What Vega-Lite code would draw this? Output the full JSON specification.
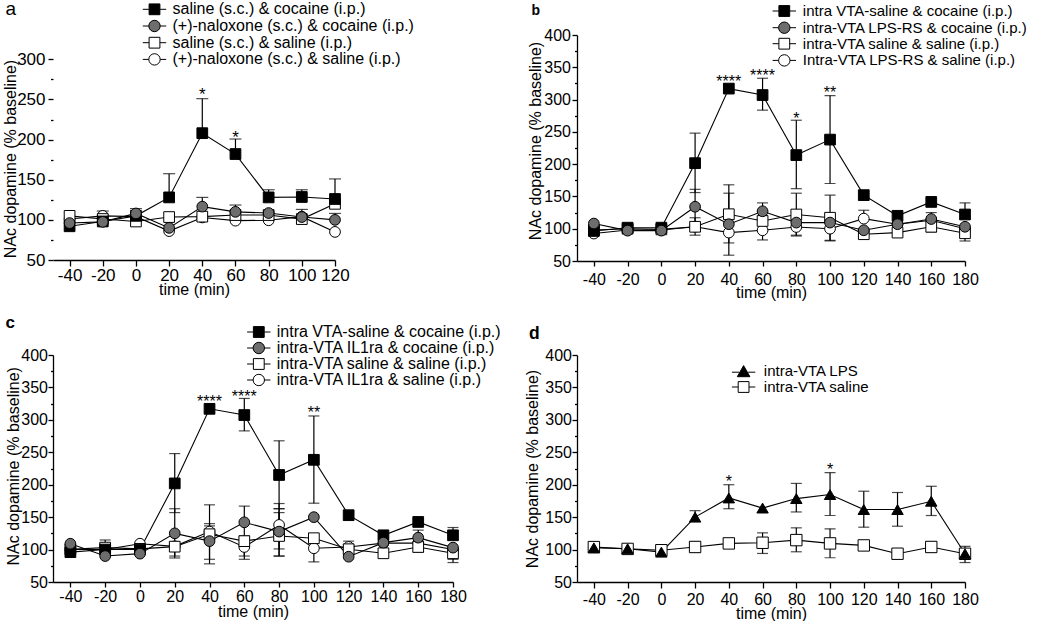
{
 "$schema": "https://vega.github.io/schema/vega-lite/v6.json",
 "padding": {"left": 2, "top": 0, "right": 5, "bottom": 5},
 "datasets": {
  "a": [
   {"group": "(+)-naloxone (s.c.) & saline (i.p.)", "time": -40, "value": 101},
   {"group": "(+)-naloxone (s.c.) & saline (i.p.)", "time": -20, "value": 105, "hi": 111},
   {"group": "(+)-naloxone (s.c.) & saline (i.p.)", "time": 0, "value": 104},
   {"group": "(+)-naloxone (s.c.) & saline (i.p.)", "time": 20, "value": 86},
   {"group": "(+)-naloxone (s.c.) & saline (i.p.)", "time": 40, "value": 103},
   {"group": "(+)-naloxone (s.c.) & saline (i.p.)", "time": 60, "value": 99},
   {"group": "(+)-naloxone (s.c.) & saline (i.p.)", "time": 80, "value": 99.5},
   {"group": "(+)-naloxone (s.c.) & saline (i.p.)", "time": 100, "value": 104},
   {"group": "(+)-naloxone (s.c.) & saline (i.p.)", "time": 120, "value": 85},
   {"group": "saline (s.c.) & saline (i.p.)", "time": -40, "value": 105},
   {"group": "saline (s.c.) & saline (i.p.)", "time": -20, "value": 101},
   {"group": "saline (s.c.) & saline (i.p.)", "time": 0, "value": 98},
   {"group": "saline (s.c.) & saline (i.p.)", "time": 20, "value": 103.5},
   {"group": "saline (s.c.) & saline (i.p.)", "time": 40, "value": 104},
   {"group": "saline (s.c.) & saline (i.p.)", "time": 60, "value": 106},
   {"group": "saline (s.c.) & saline (i.p.)", "time": 80, "value": 106},
   {"group": "saline (s.c.) & saline (i.p.)", "time": 100, "value": 101},
   {"group": "saline (s.c.) & saline (i.p.)", "time": 120, "value": 120},
   {"group": "saline (s.c.) & cocaine (i.p.)", "time": -40, "value": 92},
   {"group": "saline (s.c.) & cocaine (i.p.)", "time": -20, "value": 98},
   {"group": "saline (s.c.) & cocaine (i.p.)", "time": 0, "value": 105, "hi": 114},
   {"group": "saline (s.c.) & cocaine (i.p.)", "time": 20, "value": 128, "hi": 157.5},
   {"group": "saline (s.c.) & cocaine (i.p.)", "time": 40, "value": 208, "hi": 251},
   {"group": "saline (s.c.) & cocaine (i.p.)", "time": 60, "value": 182, "hi": 200.7},
   {"group": "saline (s.c.) & cocaine (i.p.)", "time": 80, "value": 128, "hi": 137.5},
   {"group": "saline (s.c.) & cocaine (i.p.)", "time": 100, "value": 128.5, "hi": 137.5},
   {"group": "saline (s.c.) & cocaine (i.p.)", "time": 120, "value": 126, "hi": 151},
   {"group": "(+)-naloxone (s.c.) & cocaine (i.p.)", "time": -40, "value": 96},
   {"group": "(+)-naloxone (s.c.) & cocaine (i.p.)", "time": -20, "value": 97.5},
   {"group": "(+)-naloxone (s.c.) & cocaine (i.p.)", "time": 0, "value": 108},
   {"group": "(+)-naloxone (s.c.) & cocaine (i.p.)", "time": 20, "value": 90},
   {"group": "(+)-naloxone (s.c.) & cocaine (i.p.)", "time": 40, "value": 116.5, "hi": 128},
   {"group": "(+)-naloxone (s.c.) & cocaine (i.p.)", "time": 60, "value": 110, "hi": 118.5},
   {"group": "(+)-naloxone (s.c.) & cocaine (i.p.)", "time": 80, "value": 108.5},
   {"group": "(+)-naloxone (s.c.) & cocaine (i.p.)", "time": 100, "value": 103.5, "hi": 113},
   {"group": "(+)-naloxone (s.c.) & cocaine (i.p.)", "time": 120, "value": 100, "hi": 108}
  ],
  "a_stars": [
   {"time": 40, "value": 260, "label": "*"},
   {"time": 60, "value": 207, "label": "*"}
  ],
  "b": [
   {"group": "Intra-VTA LPS-RS & saline (i.p.)", "time": -40, "value": 92.5},
   {"group": "Intra-VTA LPS-RS & saline (i.p.)", "time": -20, "value": 98},
   {"group": "Intra-VTA LPS-RS & saline (i.p.)", "time": 0, "value": 98},
   {"group": "Intra-VTA LPS-RS & saline (i.p.)", "time": 20, "value": 103},
   {"group": "Intra-VTA LPS-RS & saline (i.p.)", "time": 40, "value": 94, "lo": 59},
   {"group": "Intra-VTA LPS-RS & saline (i.p.)", "time": 60, "value": 97.6, "lo": 82.6},
   {"group": "Intra-VTA LPS-RS & saline (i.p.)", "time": 80, "value": 102.7, "lo": 88.7},
   {"group": "Intra-VTA LPS-RS & saline (i.p.)", "time": 100, "value": 100, "lo": 81},
   {"group": "Intra-VTA LPS-RS & saline (i.p.)", "time": 120, "value": 115.6, "hi": 128.6},
   {"group": "Intra-VTA LPS-RS & saline (i.p.)", "time": 140, "value": 107},
   {"group": "Intra-VTA LPS-RS & saline (i.p.)", "time": 160, "value": 113},
   {"group": "Intra-VTA LPS-RS & saline (i.p.)", "time": 180, "value": 100},
   {"group": "intra-VTA saline & saline (i.p.)", "time": -40, "value": 98},
   {"group": "intra-VTA saline & saline (i.p.)", "time": -20, "value": 100},
   {"group": "intra-VTA saline & saline (i.p.)", "time": 0, "value": 99},
   {"group": "intra-VTA saline & saline (i.p.)", "time": 20, "value": 103, "hi": 117, "lo": 90},
   {"group": "intra-VTA saline & saline (i.p.)", "time": 40, "value": 122.4, "hi": 168, "lo": 78},
   {"group": "intra-VTA saline & saline (i.p.)", "time": 60, "value": 112, "hi": 126, "lo": 98},
   {"group": "intra-VTA saline & saline (i.p.)", "time": 80, "value": 122, "hi": 155, "lo": 90},
   {"group": "intra-VTA saline & saline (i.p.)", "time": 100, "value": 117, "hi": 152, "lo": 82},
   {"group": "intra-VTA saline & saline (i.p.)", "time": 120, "value": 91.5},
   {"group": "intra-VTA saline & saline (i.p.)", "time": 140, "value": 94},
   {"group": "intra-VTA saline & saline (i.p.)", "time": 160, "value": 103, "lo": 95},
   {"group": "intra-VTA saline & saline (i.p.)", "time": 180, "value": 93, "lo": 81},
   {"group": "intra VTA-saline & cocaine (i.p.)", "time": -40, "value": 96.5},
   {"group": "intra VTA-saline & cocaine (i.p.)", "time": -20, "value": 101.6},
   {"group": "intra VTA-saline & cocaine (i.p.)", "time": 0, "value": 101.6},
   {"group": "intra VTA-saline & cocaine (i.p.)", "time": 20, "value": 201.5, "hi": 248, "lo": 156},
   {"group": "intra VTA-saline & cocaine (i.p.)", "time": 40, "value": 317},
   {"group": "intra VTA-saline & cocaine (i.p.)", "time": 60, "value": 307, "hi": 333, "lo": 283.6},
   {"group": "intra VTA-saline & cocaine (i.p.)", "time": 80, "value": 214, "hi": 268, "lo": 162},
   {"group": "intra VTA-saline & cocaine (i.p.)", "time": 100, "value": 238, "hi": 306, "lo": 170},
   {"group": "intra VTA-saline & cocaine (i.p.)", "time": 120, "value": 152},
   {"group": "intra VTA-saline & cocaine (i.p.)", "time": 140, "value": 120},
   {"group": "intra VTA-saline & cocaine (i.p.)", "time": 160, "value": 141.5},
   {"group": "intra VTA-saline & cocaine (i.p.)", "time": 180, "value": 122, "hi": 140},
   {"group": "intra-VTA LPS-RS & cocaine (i.p.)", "time": -40, "value": 108},
   {"group": "intra-VTA LPS-RS & cocaine (i.p.)", "time": -20, "value": 97},
   {"group": "intra-VTA LPS-RS & cocaine (i.p.)", "time": 0, "value": 97},
   {"group": "intra-VTA LPS-RS & cocaine (i.p.)", "time": 20, "value": 134, "hi": 161, "lo": 107},
   {"group": "intra-VTA LPS-RS & cocaine (i.p.)", "time": 40, "value": 107, "hi": 155},
   {"group": "intra-VTA LPS-RS & cocaine (i.p.)", "time": 60, "value": 127, "hi": 140, "lo": 114},
   {"group": "intra-VTA LPS-RS & cocaine (i.p.)", "time": 80, "value": 109.5},
   {"group": "intra-VTA LPS-RS & cocaine (i.p.)", "time": 100, "value": 109.5},
   {"group": "intra-VTA LPS-RS & cocaine (i.p.)", "time": 120, "value": 97.6},
   {"group": "intra-VTA LPS-RS & cocaine (i.p.)", "time": 140, "value": 107},
   {"group": "intra-VTA LPS-RS & cocaine (i.p.)", "time": 160, "value": 115, "hi": 125},
   {"group": "intra-VTA LPS-RS & cocaine (i.p.)", "time": 180, "value": 103, "lo": 95}
  ],
  "b_stars": [
   {"time": 40, "value": 333, "label": "****"},
   {"time": 60, "value": 342.6, "label": "****"},
   {"time": 80, "value": 274.8, "label": "*"},
   {"time": 100, "value": 316, "label": "**"}
  ],
  "c": [
   {"group": "intra-VTA IL1ra & saline (i.p.)", "time": -40, "value": 100},
   {"group": "intra-VTA IL1ra & saline (i.p.)", "time": -20, "value": 100},
   {"group": "intra-VTA IL1ra & saline (i.p.)", "time": 0, "value": 109},
   {"group": "intra-VTA IL1ra & saline (i.p.)", "time": 20, "value": 105},
   {"group": "intra-VTA IL1ra & saline (i.p.)", "time": 40, "value": 127.7, "hi": 136.5},
   {"group": "intra-VTA IL1ra & saline (i.p.)", "time": 60, "value": 104, "lo": 90},
   {"group": "intra-VTA IL1ra & saline (i.p.)", "time": 80, "value": 138, "hi": 163, "lo": 90},
   {"group": "intra-VTA IL1ra & saline (i.p.)", "time": 100, "value": 102, "lo": 81},
   {"group": "intra-VTA IL1ra & saline (i.p.)", "time": 120, "value": 104, "hi": 113},
   {"group": "intra-VTA IL1ra & saline (i.p.)", "time": 140, "value": 110},
   {"group": "intra-VTA IL1ra & saline (i.p.)", "time": 160, "value": 110},
   {"group": "intra-VTA IL1ra & saline (i.p.)", "time": 180, "value": 100},
   {"group": "intra-VTA saline & saline (i.p.)", "time": -40, "value": 100.5},
   {"group": "intra-VTA saline & saline (i.p.)", "time": -20, "value": 103, "hi": 114.8},
   {"group": "intra-VTA saline & saline (i.p.)", "time": 0, "value": 101},
   {"group": "intra-VTA saline & saline (i.p.)", "time": 20, "value": 104.5, "lo": 90},
   {"group": "intra-VTA saline & saline (i.p.)", "time": 40, "value": 123.6, "hi": 140, "lo": 85},
   {"group": "intra-VTA saline & saline (i.p.)", "time": 60, "value": 113, "hi": 121, "lo": 85},
   {"group": "intra-VTA saline & saline (i.p.)", "time": 80, "value": 121, "hi": 157, "lo": 101},
   {"group": "intra-VTA saline & saline (i.p.)", "time": 100, "value": 117.5},
   {"group": "intra-VTA saline & saline (i.p.)", "time": 120, "value": 100.5},
   {"group": "intra-VTA saline & saline (i.p.)", "time": 140, "value": 94.3},
   {"group": "intra-VTA saline & saline (i.p.)", "time": 160, "value": 104, "lo": 96},
   {"group": "intra-VTA saline & saline (i.p.)", "time": 180, "value": 94.3, "lo": 85},
   {"group": "intra VTA-saline & cocaine (i.p.)", "time": -40, "value": 96},
   {"group": "intra VTA-saline & cocaine (i.p.)", "time": -20, "value": 100},
   {"group": "intra VTA-saline & cocaine (i.p.)", "time": 0, "value": 100},
   {"group": "intra VTA-saline & cocaine (i.p.)", "time": 20, "value": 202, "hi": 248, "lo": 157},
   {"group": "intra VTA-saline & cocaine (i.p.)", "time": 40, "value": 317},
   {"group": "intra VTA-saline & cocaine (i.p.)", "time": 60, "value": 307.4, "hi": 333, "lo": 283},
   {"group": "intra VTA-saline & cocaine (i.p.)", "time": 80, "value": 215, "hi": 267.7, "lo": 163},
   {"group": "intra VTA-saline & cocaine (i.p.)", "time": 100, "value": 238.4, "hi": 306, "lo": 171.5},
   {"group": "intra VTA-saline & cocaine (i.p.)", "time": 120, "value": 153},
   {"group": "intra VTA-saline & cocaine (i.p.)", "time": 140, "value": 122},
   {"group": "intra VTA-saline & cocaine (i.p.)", "time": 160, "value": 142.6},
   {"group": "intra VTA-saline & cocaine (i.p.)", "time": 180, "value": 122, "hi": 134},
   {"group": "intra-VTA IL1ra & cocaine (i.p.)", "time": -40, "value": 109},
   {"group": "intra-VTA IL1ra & cocaine (i.p.)", "time": -20, "value": 90},
   {"group": "intra-VTA IL1ra & cocaine (i.p.)", "time": 0, "value": 93.7},
   {"group": "intra-VTA IL1ra & cocaine (i.p.)", "time": 20, "value": 125, "hi": 163, "lo": 87},
   {"group": "intra-VTA IL1ra & cocaine (i.p.)", "time": 40, "value": 113, "hi": 169, "lo": 78},
   {"group": "intra-VTA IL1ra & cocaine (i.p.)", "time": 60, "value": 142, "hi": 167, "lo": 118},
   {"group": "intra-VTA IL1ra & cocaine (i.p.)", "time": 80, "value": 127.7, "hi": 171, "lo": 90},
   {"group": "intra-VTA IL1ra & cocaine (i.p.)", "time": 100, "value": 150},
   {"group": "intra-VTA IL1ra & cocaine (i.p.)", "time": 120, "value": 89},
   {"group": "intra-VTA IL1ra & cocaine (i.p.)", "time": 140, "value": 110.7},
   {"group": "intra-VTA IL1ra & cocaine (i.p.)", "time": 160, "value": 118.4, "hi": 130},
   {"group": "intra-VTA IL1ra & cocaine (i.p.)", "time": 180, "value": 103, "lo": 80}
  ],
  "c_stars": [
   {"time": 40, "value": 333, "label": "****"},
   {"time": 60, "value": 341.3, "label": "****"},
   {"time": 100, "value": 316.6, "label": "**"}
  ],
  "d": [
   {"group": "intra-VTA saline", "time": -40, "value": 103.8},
   {"group": "intra-VTA saline", "time": -20, "value": 101},
   {"group": "intra-VTA saline", "time": 0, "value": 99},
   {"group": "intra-VTA saline", "time": 20, "value": 104, "hi": 112, "lo": 96},
   {"group": "intra-VTA saline", "time": 40, "value": 109.5, "hi": 117, "lo": 102},
   {"group": "intra-VTA saline", "time": 60, "value": 110.5, "hi": 125.8, "lo": 94},
   {"group": "intra-VTA saline", "time": 80, "value": 114.6, "hi": 133.5, "lo": 96.6},
   {"group": "intra-VTA saline", "time": 100, "value": 109.5, "hi": 132, "lo": 87.4},
   {"group": "intra-VTA saline", "time": 120, "value": 106.4},
   {"group": "intra-VTA saline", "time": 140, "value": 93.6},
   {"group": "intra-VTA saline", "time": 160, "value": 104, "hi": 112, "lo": 96},
   {"group": "intra-VTA saline", "time": 180, "value": 93.5},
   {"group": "intra-VTA LPS", "time": -40, "value": 102.7},
   {"group": "intra-VTA LPS", "time": -20, "value": 101.2},
   {"group": "intra-VTA LPS", "time": 0, "value": 96},
   {"group": "intra-VTA LPS", "time": 20, "value": 150, "hi": 160},
   {"group": "intra-VTA LPS", "time": 40, "value": 179.6, "hi": 200, "lo": 163},
   {"group": "intra-VTA LPS", "time": 60, "value": 164},
   {"group": "intra-VTA LPS", "time": 80, "value": 178.6, "hi": 202, "lo": 158},
   {"group": "intra-VTA LPS", "time": 100, "value": 184.8, "hi": 218.6, "lo": 152.5},
   {"group": "intra-VTA LPS", "time": 120, "value": 161.7, "hi": 190, "lo": 134.5},
   {"group": "intra-VTA LPS", "time": 140, "value": 161.7, "hi": 188, "lo": 136},
   {"group": "intra-VTA LPS", "time": 160, "value": 174.5, "hi": 197.6, "lo": 152.5},
   {"group": "intra-VTA LPS", "time": 180, "value": 93.5, "hi": 105, "lo": 80}
  ],
  "d_stars": [
   {"time": 40, "value": 210.3, "label": "*"},
   {"time": 100, "value": 228.3, "label": "*"}
  ]
 },
 "columns": 2,
 "spacing": {"row": 94, "column": 124},
 "bounds": "flush",
 "resolve": {"scale": {"fill": "independent", "shape": "independent"}, "legend": {"fill": "independent", "shape": "independent"}},
 "concat": [
  {
   "width": 282, "height": 225,
   "title": {"text": "a", "anchor": "start", "frame": "group", "orient": "top", "offset": 0, "dx": -47.5, "dy": 33, "baseline": "alphabetic", "fontSize": 19, "fontWeight": "normal", "color": "black"},
   "data": {"name": "a"},
   "encoding": {"x": {"field": "time", "type": "quantitative", "scale": {"domain": [-50, 120], "nice": false, "zero": false},
     "axis": {"values": [-40, -20, 0, 20, 40, 60, 80, 100, 120], "tickCount": 40, "title": "time (min)", "titleFontSize": 16, "titleY": 29, "titleBaseline": "middle", "labelFontSize": 17, "tickSize": 6, "labelPadding": 1, "labelOverlap": false, "labelFlush": false, "labelExpr": "datum.value < 0 ? '-' + abs(datum.value) : '' + datum.value"}}},
   "layer": [
    {"transform": [{"filter": "isValid(datum.hi)"}], "mark": {"type": "rule", "color": "black", "strokeWidth": 1.2},
     "encoding": {"y": {"field": "value", "type": "quantitative", "scale": {"domain": [50, 330.3], "nice": false, "zero": false}}, "y2": {"field": "hi"}}},
    {"transform": [{"filter": "isValid(datum.hi)"}], "mark": {"type": "tick", "orient": "horizontal", "color": "black", "size": 12, "thickness": 1.2},
     "encoding": {"y": {"field": "hi", "type": "quantitative", "scale": {"domain": [50, 330.3], "nice": false, "zero": false}}}},
    {"mark": {"type": "line", "color": "black", "strokeWidth": 1.1},
     "encoding": {"y": {"field": "value", "type": "quantitative", "scale": {"domain": [50, 330.3], "nice": false, "zero": false}}, "detail": {"field": "group", "type": "nominal"}}},
    {"mark": {"type": "point", "filled": true, "stroke": "black", "strokeWidth": 1, "opacity": 1, "size": 115},
     "encoding": {
      "y": {"field": "value", "type": "quantitative", "scale": {"domain": [50, 330.3], "nice": false, "zero": false},
        "axis": {"domain": false, "values": [50, 75, 100, 125, 150, 175, 200, 225, 250, 275, 300], "tickCount": 40, "title": "NAc dopamine  (% baseline)", "titleFontSize": 16, "titleX": -42.5, "titleY": 123.5, "titleBaseline": "middle", "titleAngle": -90, "labelFontSize": 17, "labelPadding": 3, "labelBaseline": "middle", "labelOverlap": false, "labelFlush": false,
          "tickSize": {"condition": {"test": "datum.value % 50 !== 0", "value": 2.5}, "value": 5},
          "labelExpr": "datum.value % 50 === 0 ? '' + datum.value : ''"}},
      "shape": {"field": "group", "type": "nominal", "legend": null, "scale": {"domain": ["saline (s.c.) & cocaine (i.p.)", "saline (s.c.) & saline (i.p.)", "(+)-naloxone (s.c.) & cocaine (i.p.)", "(+)-naloxone (s.c.) & saline (i.p.)"], "range": ["square", "square", "circle", "circle"]}},
      "fill": {"field": "group", "type": "nominal", "scale": {"domain": ["saline (s.c.) & cocaine (i.p.)", "(+)-naloxone (s.c.) & cocaine (i.p.)", "saline (s.c.) & saline (i.p.)", "(+)-naloxone (s.c.) & saline (i.p.)"], "range": ["black", "#6d6d6d", "white", "white"]},
        "legend": {"orient": "none", "legendX": 93.5, "legendY": -33.7, "title": null, "labelFontSize": 16, "labelOffset": 10, "rowPadding": 0.7, "symbolSize": 144, "symbolStrokeColor": "black", "symbolStrokeWidth": 1,
          "encode": {"symbols": {"update": {"shape": {"signal": "datum.index % 2 === 0 ? 'M-1.95,0H-0.9M0.9,0H1.95M-0.9,-0.9H0.9V0.9H-0.9Z' : 'M-1.95,0H-0.95M0.95,0H1.95M-0.95,0A0.95,0.95,0,1,1,0.95,0A0.95,0.95,0,1,1,-0.95,0Z'"}, "stroke": {"value": "black"}, "strokeWidth": {"value": 1}, "opacity": {"value": 1}}}}}}
     }},
    {"data": {"name": "a_stars"}, "mark": {"type": "text", "fontSize": 17, "dy": 4, "color": "black", "align": "center"},
     "encoding": {"y": {"field": "value", "type": "quantitative", "scale": {"domain": [50, 330.3], "nice": false, "zero": false}}, "text": {"field": "label"}}},
    {"data": {"values": [{}]}, "mark": {"type": "rule", "color": "black", "strokeWidth": 1.3},
     "encoding": {"x": {"datum": -50, "type": "quantitative", "scale": {"domain": [-50, 120], "nice": false, "zero": false}}, "y": {"datum": 50, "type": "quantitative", "scale": {"domain": [50, 330.3], "nice": false, "zero": false}}, "y2": {"datum": 300}}}
   ]
  },
  {
   "width": 388, "height": 226,
   "title": {"text": "b", "anchor": "start", "frame": "group", "orient": "top", "offset": 0, "dx": -45.5, "dy": 25, "baseline": "alphabetic", "fontSize": 14, "fontWeight": "bold", "color": "black"},
   "data": {"name": "b"},
   "encoding": {"x": {"field": "time", "type": "quantitative", "scale": {"domain": [-50, 180], "nice": false, "zero": false},
     "axis": {"values": [-40, -20, 0, 20, 40, 60, 80, 100, 120, 140, 160, 180], "tickCount": 40, "title": "time (min)", "titleFontSize": 16, "titleY": 31, "titleBaseline": "middle", "labelFontSize": 16, "tickSize": 5, "labelPadding": 5, "labelOverlap": false, "labelFlush": false, "labelExpr": "datum.value < 0 ? '-' + abs(datum.value) : '' + datum.value"}}},
   "layer": [
    {"transform": [{"filter": "isValid(datum.hi)"}], "mark": {"type": "rule", "color": "black", "strokeWidth": 1.2},
     "encoding": {"y": {"field": "value", "type": "quantitative", "scale": {"domain": [50, 400], "nice": false, "zero": false}}, "y2": {"field": "hi"}}},
    {"transform": [{"filter": "isValid(datum.lo)"}], "mark": {"type": "rule", "color": "black", "strokeWidth": 1.2},
     "encoding": {"y": {"field": "lo", "type": "quantitative", "scale": {"domain": [50, 400], "nice": false, "zero": false}}, "y2": {"field": "value"}}},
    {"transform": [{"filter": "isValid(datum.hi)"}], "mark": {"type": "tick", "orient": "horizontal", "color": "black", "size": 11, "thickness": 1.2},
     "encoding": {"y": {"field": "hi", "type": "quantitative", "scale": {"domain": [50, 400], "nice": false, "zero": false}}}},
    {"transform": [{"filter": "isValid(datum.lo)"}], "mark": {"type": "tick", "orient": "horizontal", "color": "black", "size": 11, "thickness": 1.2},
     "encoding": {"y": {"field": "lo", "type": "quantitative", "scale": {"domain": [50, 400], "nice": false, "zero": false}}}},
    {"mark": {"type": "line", "color": "black", "strokeWidth": 1.1},
     "encoding": {"y": {"field": "value", "type": "quantitative", "scale": {"domain": [50, 400], "nice": false, "zero": false}}, "detail": {"field": "group", "type": "nominal"}}},
    {"mark": {"type": "point", "filled": true, "stroke": "black", "strokeWidth": 1, "opacity": 1, "size": 115},
     "encoding": {
      "y": {"field": "value", "type": "quantitative", "scale": {"domain": [50, 400], "nice": false, "zero": false},
        "axis": {"values": [50, 75, 100, 125, 150, 175, 200, 225, 250, 275, 300, 325, 350, 375, 400], "tickCount": 40, "title": "NAc  dopamine  (% baseline)", "titleFontSize": 16, "titleX": -41.7, "titleY": 105.5, "titleBaseline": "middle", "titleAngle": -90, "labelFontSize": 16, "labelPadding": 1.5, "labelBaseline": "middle", "labelOverlap": false, "labelFlush": false,
          "tickSize": {"condition": {"test": "datum.value % 50 !== 0", "value": 2.5}, "value": 5},
          "labelExpr": "datum.value % 50 === 0 ? '' + datum.value : ''"}},
      "shape": {"field": "group", "type": "nominal", "legend": null, "scale": {"domain": ["intra VTA-saline & cocaine (i.p.)", "intra-VTA saline & saline (i.p.)", "intra-VTA LPS-RS & cocaine (i.p.)", "Intra-VTA LPS-RS & saline (i.p.)"], "range": ["square", "square", "circle", "circle"]}},
      "fill": {"field": "group", "type": "nominal", "scale": {"domain": ["intra VTA-saline & cocaine (i.p.)", "intra-VTA LPS-RS & cocaine (i.p.)", "intra-VTA saline & saline (i.p.)", "Intra-VTA LPS-RS & saline (i.p.)"], "range": ["black", "#6d6d6d", "white", "white"]},
        "legend": {"orient": "none", "legendX": 199.8, "legendY": -31.5, "title": null, "labelFontSize": 15, "labelOffset": 11, "rowPadding": -0.3, "symbolSize": 144, "symbolStrokeColor": "black", "symbolStrokeWidth": 1,
          "encode": {"symbols": {"update": {"shape": {"signal": "datum.index % 2 === 0 ? 'M-1.95,0H-0.9M0.9,0H1.95M-0.9,-0.9H0.9V0.9H-0.9Z' : 'M-1.95,0H-0.95M0.95,0H1.95M-0.95,0A0.95,0.95,0,1,1,0.95,0A0.95,0.95,0,1,1,-0.95,0Z'"}, "stroke": {"value": "black"}, "strokeWidth": {"value": 1}, "opacity": {"value": 1}}}}}}
     }},
    {"data": {"name": "b_stars"}, "mark": {"type": "text", "fontSize": 16, "dy": 3.5, "color": "black", "align": "center"},
     "encoding": {"y": {"field": "value", "type": "quantitative", "scale": {"domain": [50, 400], "nice": false, "zero": false}}, "text": {"field": "label"}}}
   ]
  },
  {
   "width": 400, "height": 227,
   "title": {"text": "c", "anchor": "start", "frame": "group", "orient": "top", "offset": 0, "dx": -47.5, "dy": 21, "baseline": "alphabetic", "fontSize": 17, "fontWeight": "bold", "color": "black"},
   "data": {"name": "c"},
   "encoding": {"x": {"field": "time", "type": "quantitative", "scale": {"domain": [-50, 180], "nice": false, "zero": false},
     "axis": {"values": [-40, -20, 0, 20, 40, 60, 80, 100, 120, 140, 160, 180], "tickCount": 40, "title": "time (min)", "titleFontSize": 16, "titleY": 29.5, "titleBaseline": "middle", "labelFontSize": 16, "tickSize": 5, "labelPadding": 1, "labelOverlap": false, "labelFlush": false, "labelExpr": "datum.value < 0 ? '-' + abs(datum.value) : '' + datum.value"}}},
   "layer": [
    {"transform": [{"filter": "isValid(datum.hi)"}], "mark": {"type": "rule", "color": "black", "strokeWidth": 1.2},
     "encoding": {"y": {"field": "value", "type": "quantitative", "scale": {"domain": [50, 400], "nice": false, "zero": false}}, "y2": {"field": "hi"}}},
    {"transform": [{"filter": "isValid(datum.lo)"}], "mark": {"type": "rule", "color": "black", "strokeWidth": 1.2},
     "encoding": {"y": {"field": "lo", "type": "quantitative", "scale": {"domain": [50, 400], "nice": false, "zero": false}}, "y2": {"field": "value"}}},
    {"transform": [{"filter": "isValid(datum.hi)"}], "mark": {"type": "tick", "orient": "horizontal", "color": "black", "size": 11, "thickness": 1.2},
     "encoding": {"y": {"field": "hi", "type": "quantitative", "scale": {"domain": [50, 400], "nice": false, "zero": false}}}},
    {"transform": [{"filter": "isValid(datum.lo)"}], "mark": {"type": "tick", "orient": "horizontal", "color": "black", "size": 11, "thickness": 1.2},
     "encoding": {"y": {"field": "lo", "type": "quantitative", "scale": {"domain": [50, 400], "nice": false, "zero": false}}}},
    {"mark": {"type": "line", "color": "black", "strokeWidth": 1.1},
     "encoding": {"y": {"field": "value", "type": "quantitative", "scale": {"domain": [50, 400], "nice": false, "zero": false}}, "detail": {"field": "group", "type": "nominal"}}},
    {"mark": {"type": "point", "filled": true, "stroke": "black", "strokeWidth": 1, "opacity": 1, "size": 115},
     "encoding": {
      "y": {"field": "value", "type": "quantitative", "scale": {"domain": [50, 400], "nice": false, "zero": false},
        "axis": {"values": [50, 75, 100, 125, 150, 175, 200, 225, 250, 275, 300, 325, 350, 375, 400], "tickCount": 40, "title": "NAc dopamine (% baseline)", "titleFontSize": 16, "titleX": -39.5, "titleY": 110.8, "titleBaseline": "middle", "titleAngle": -90, "labelFontSize": 16, "labelPadding": 0.5, "labelBaseline": "middle", "labelOverlap": false, "labelFlush": false,
          "tickSize": {"condition": {"test": "datum.value % 50 !== 0", "value": 2.5}, "value": 5},
          "labelExpr": "datum.value % 50 === 0 ? '' + datum.value : ''"}},
      "shape": {"field": "group", "type": "nominal", "legend": null, "scale": {"domain": ["intra VTA-saline & cocaine (i.p.)", "intra-VTA saline & saline (i.p.)", "intra-VTA IL1ra & cocaine (i.p.)", "intra-VTA IL1ra & saline (i.p.)"], "range": ["square", "square", "circle", "circle"]}},
      "fill": {"field": "group", "type": "nominal", "scale": {"domain": ["intra VTA-saline & cocaine (i.p.)", "intra-VTA IL1ra & cocaine (i.p.)", "intra-VTA saline & saline (i.p.)", "intra-VTA IL1ra & saline (i.p.)"], "range": ["black", "#6d6d6d", "white", "white"]},
        "legend": {"orient": "none", "legendX": 197.8, "legendY": -31, "title": null, "labelFontSize": 16, "labelOffset": 10, "rowPadding": -0.2, "symbolSize": 144, "symbolStrokeColor": "black", "symbolStrokeWidth": 1,
          "encode": {"symbols": {"update": {"shape": {"signal": "datum.index % 2 === 0 ? 'M-1.95,0H-0.9M0.9,0H1.95M-0.9,-0.9H0.9V0.9H-0.9Z' : 'M-1.95,0H-0.95M0.95,0H1.95M-0.95,0A0.95,0.95,0,1,1,0.95,0A0.95,0.95,0,1,1,-0.95,0Z'"}, "stroke": {"value": "black"}, "strokeWidth": {"value": 1}, "opacity": {"value": 1}}}}}}
     }},
    {"data": {"name": "c_stars"}, "mark": {"type": "text", "fontSize": 16, "dy": 3.5, "color": "black", "align": "center"},
     "encoding": {"y": {"field": "value", "type": "quantitative", "scale": {"domain": [50, 400], "nice": false, "zero": false}}, "text": {"field": "label"}}}
   ]
  },
  {
   "width": 388, "height": 227,
   "title": {"text": "d", "anchor": "start", "frame": "group", "orient": "top", "offset": 0, "dx": -48, "dy": 9, "baseline": "alphabetic", "fontSize": 17.5, "fontWeight": "bold", "color": "black"},
   "data": {"name": "d"},
   "encoding": {"x": {"field": "time", "type": "quantitative", "scale": {"domain": [-50, 180], "nice": false, "zero": false},
     "axis": {"values": [-40, -20, 0, 20, 40, 60, 80, 100, 120, 140, 160, 180], "tickCount": 40, "title": "time (min)", "titleFontSize": 16, "titleY": 31.5, "titleBaseline": "middle", "labelFontSize": 16, "tickSize": 6, "labelPadding": 3, "labelOverlap": false, "labelFlush": false, "labelExpr": "datum.value < 0 ? '-' + abs(datum.value) : '' + datum.value"}}},
   "layer": [
    {"transform": [{"filter": "isValid(datum.hi)"}], "mark": {"type": "rule", "color": "black", "strokeWidth": 1.2},
     "encoding": {"y": {"field": "value", "type": "quantitative", "scale": {"domain": [50, 400], "nice": false, "zero": false}}, "y2": {"field": "hi"}}},
    {"transform": [{"filter": "isValid(datum.lo)"}], "mark": {"type": "rule", "color": "black", "strokeWidth": 1.2},
     "encoding": {"y": {"field": "lo", "type": "quantitative", "scale": {"domain": [50, 400], "nice": false, "zero": false}}, "y2": {"field": "value"}}},
    {"transform": [{"filter": "isValid(datum.hi)"}], "mark": {"type": "tick", "orient": "horizontal", "color": "black", "size": 11, "thickness": 1.2},
     "encoding": {"y": {"field": "hi", "type": "quantitative", "scale": {"domain": [50, 400], "nice": false, "zero": false}}}},
    {"transform": [{"filter": "isValid(datum.lo)"}], "mark": {"type": "tick", "orient": "horizontal", "color": "black", "size": 11, "thickness": 1.2},
     "encoding": {"y": {"field": "lo", "type": "quantitative", "scale": {"domain": [50, 400], "nice": false, "zero": false}}}},
    {"mark": {"type": "line", "color": "black", "strokeWidth": 1.1},
     "encoding": {"y": {"field": "value", "type": "quantitative", "scale": {"domain": [50, 400], "nice": false, "zero": false}}, "detail": {"field": "group", "type": "nominal"}}},
    {"mark": {"type": "point", "filled": true, "stroke": "black", "strokeWidth": 1, "opacity": 1, "size": 130},
     "encoding": {
      "y": {"field": "value", "type": "quantitative", "scale": {"domain": [50, 400], "nice": false, "zero": false},
        "axis": {"values": [50, 75, 100, 125, 150, 175, 200, 225, 250, 275, 300, 325, 350, 375, 400], "tickCount": 40, "title": "NAc dopamine  (% baseline)", "titleFontSize": 16, "titleX": -44.5, "titleY": 113.5, "titleBaseline": "middle", "titleAngle": -90, "labelFontSize": 16, "labelPadding": 0.5, "labelBaseline": "middle", "labelOverlap": false, "labelFlush": false,
          "tickSize": {"condition": {"test": "datum.value % 50 !== 0", "value": 2.5}, "value": 5},
          "labelExpr": "datum.value % 50 === 0 ? '' + datum.value : ''"}},
      "shape": {"field": "group", "type": "nominal", "legend": null, "scale": {"domain": ["intra-VTA saline", "intra-VTA LPS"], "range": ["square", "triangle-up"]}},
      "fill": {"field": "group", "type": "nominal", "scale": {"domain": ["intra-VTA LPS", "intra-VTA saline"], "range": ["black", "white"]},
        "legend": {"orient": "none", "legendX": 159.1, "legendY": 8.5, "title": null, "labelFontSize": 15, "labelOffset": 12.7, "rowPadding": -3, "symbolSize": 144, "symbolStrokeColor": "black", "symbolStrokeWidth": 1,
          "encode": {"symbols": {"update": {"shape": {"signal": "datum.index === 0 ? 'M-1.95,0.2H-0.75M0.75,0.2H1.95M0,-0.9L1.05,0.95H-1.05Z' : 'M-1.95,0H-0.9M0.9,0H1.95M-0.9,-0.9H0.9V0.9H-0.9Z'"}, "stroke": {"value": "black"}, "strokeWidth": {"value": 1}, "opacity": {"value": 1}}}}}}
     }},
    {"data": {"name": "d_stars"}, "mark": {"type": "text", "fontSize": 16, "dy": 3.5, "color": "black", "align": "center"},
     "encoding": {"y": {"field": "value", "type": "quantitative", "scale": {"domain": [50, 400], "nice": false, "zero": false}}, "text": {"field": "label"}}}
   ]
  }
 ],
 "config": {
  "view": {"stroke": null},
  "font": "Liberation Sans",
  "axis": {"grid": false, "domainColor": "black", "domainWidth": 1.3, "tickColor": "black", "tickWidth": 1.3, "labelColor": "black", "titleColor": "black", "titleFontWeight": "normal", "labelFont": "Liberation Sans", "titleFont": "Liberation Sans", "labelFlush": false, "labelOverlap": false},
  "legend": {"labelColor": "black", "labelFont": "Liberation Sans", "symbolStrokeColor": "black", "symbolStrokeWidth": 1, "symbolOpacity": 1, "padding": 0, "labelLimit": 400},
  "text": {"font": "Liberation Sans"}
 }
}
